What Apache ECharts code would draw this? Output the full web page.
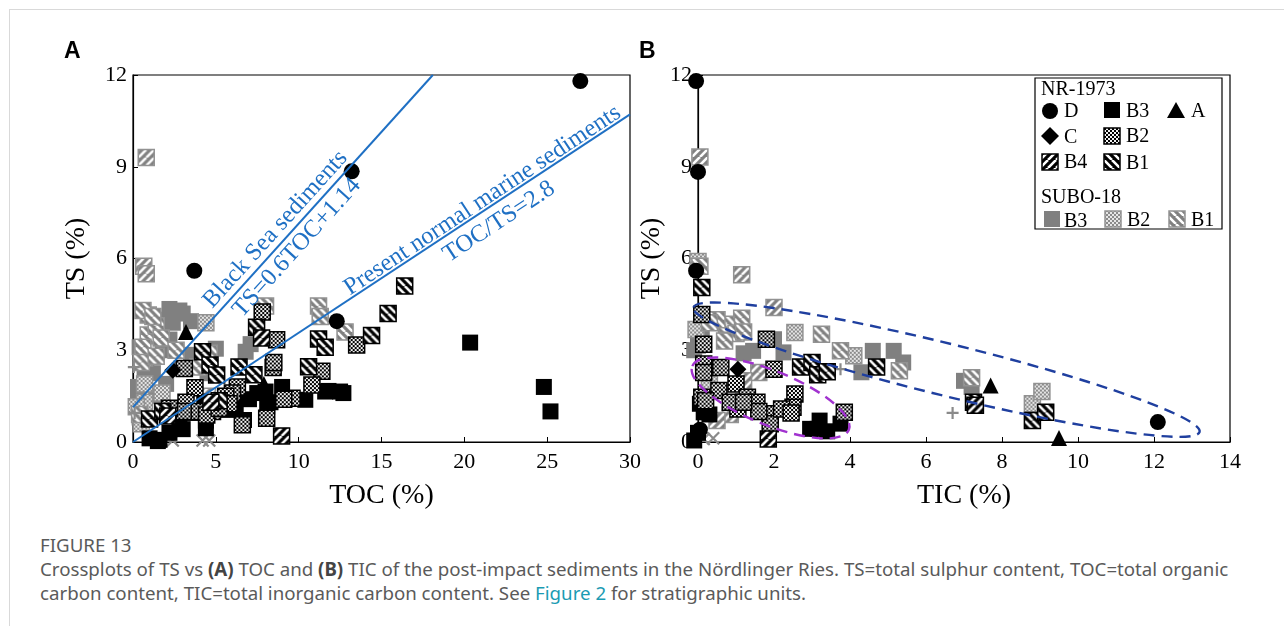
<!DOCTYPE html>
<html><head><meta charset="utf-8">
<script src="https://cdn.jsdelivr.net/npm/echarts@6/dist/echarts.min.js"></script>
<style>
html,body{margin:0;padding:0;background:#fff;overflow:hidden;}
#frame{position:absolute;left:9px;top:9px;width:1280px;height:620px;border-top:1px solid #d9d9d9;border-left:1px solid #d9d9d9;}
#chart{position:absolute;left:0;top:0;width:1284px;height:520px;}
#cap{position:absolute;left:40px;top:533px;width:1240px;font-family:'Noto Sans',sans-serif;color:#5a5a5a;font-size:18.7px;line-height:24px;white-space:nowrap;}
#cap b{font-weight:700;color:#444;}
#cap .lnk{color:#1b9bb3;}
</style></head>
<body>
<div id="frame"></div>
<div id="chart"></div>
<div id="cap">FIGURE 13<br>Crossplots of TS vs <b>(A)</b> TOC and <b>(B)</b> TIC of the post-impact sediments in the Nördlinger Ries. TS=total sulphur content, TOC=total organic<br>carbon content, TIC=total inorganic carbon content. See <span class="lnk">Figure 2</span> for stratigraphic units.</div>
<script>
// ---------- Panel A: TOC (%) vs TS (%) ----------
const nrD_A   = [[3.7,5.6],[13.2,8.85],[12.3,3.95],[27.0,11.8]];
const nrB3_A  = [[20.35,3.25],[24.8,1.8],[25.2,1.0],[12.7,1.6],[11.8,1.67],[10.4,1.38],[9.0,1.8],[8.3,1.3],[7.0,1.4],[6.7,0.72],[4.4,0.45],[3.0,0.42],[1.6,0.07],[1.0,0.12],[4.4,0.7],[8.1,1.15],[8.0,1.65],[5.7,1.05],[3.7,0.95],[1.5,0.03],[4.3,1.25],[6.2,1.1],[7.5,1.6],[2.2,0.3],[2.8,0.46],[11.6,1.65],[12.5,1.65]];
const nrA_A   = [[3.2,3.6],[7.9,1.9]];
const nrC_A   = [[2.4,2.35]];
const nrB1_A  = [[16.4,5.1],[15.4,4.2],[14.4,3.48],[11.2,3.37],[11.6,3.1],[10.6,2.46],[7.46,3.75],[4.2,2.95],[4.65,2.52],[6.4,2.45],[7.3,2.2],[5.2,1.35],[1.0,0.75],[1.8,1.0],[5.05,2.19]];
const nrB4_A  = [[8.97,0.2],[7.76,3.4],[4.7,1.3],[2.1,0.85]];
const nrB2_A  = [[7.8,4.25],[8.67,3.34],[13.5,3.17],[3.1,2.4],[8.46,2.44],[11.4,2.31],[10.8,1.86],[9.6,1.43],[9.1,1.4],[3.74,1.77],[6.3,1.8],[6.0,1.6],[3.2,1.3],[3.1,1.0],[4.0,1.0],[4.8,1.0],[6.6,0.56],[8.07,0.78],[5.6,1.5],[5.8,1.25],[4.45,0.88],[5.2,1.1],[2.2,1.1],[8.5,2.6]];
const suB3_A  = [[2.2,4.35],[2.8,4.3],[1.6,4.0],[2.4,3.9],[3.5,3.95],[1.0,3.45],[0.4,3.1],[0.8,2.7],[1.2,2.25],[2.0,1.9],[0.3,1.8],[2.2,3.35],[3.5,2.85],[5.0,3.05],[4.5,2.25],[6.8,2.95],[7.1,3.2],[0.4,0.8],[0.3,1.35],[1.8,3.0],[2.9,2.4],[1.4,1.5],[0.7,2.1],[3.0,4.2]];
const suB1_A  = [[0.92,4.15],[0.92,3.5],[1.4,3.8],[0.6,4.3],[1.2,4.1],[0.6,3.1],[0.5,2.6],[1.7,3.4],[8.0,4.45],[11.2,4.45],[11.3,4.1],[12.8,3.6],[2.6,3.0],[4.6,2.9],[3.9,2.45],[0.4,0.9],[1.4,2.8]];
const suB4_A  = [[0.8,9.3],[0.65,5.75],[0.8,5.5],[4.5,1.5]];
const suB2_A  = [[4.4,3.9],[1.75,1.6],[0.7,1.3],[0.7,2.75],[0.2,1.15],[0.7,1.9],[0.5,0.6]];
const plus_A  = [[0.05,2.45],[0.1,0.95]];
const cross_A = [[2.4,0.05],[4.2,0.05],[4.6,0.05]];

// ---------- Panel B: TIC (%) vs TS (%) ----------
const nrD_B   = [[-0.05,11.8],[0,8.83],[-0.05,5.6],[0.05,0.4],[12.1,0.65]];
const nrB3_B  = [[3.15,0.43],[2.95,0.43],[3.2,0.7],[3.75,0.6],[0.15,0.97],[-0.1,0.05],[0.05,1.25],[0.3,0.9],[3.4,0.35],[0.0,0.3]];
const nrB1_B  = [[0.1,5.05],[2.7,2.45],[3.0,2.6],[3.15,2.2],[4.7,2.45],[7.25,1.3],[8.8,0.7],[9.15,0.97],[3.4,2.3]];
const nrB4_B  = [[1.85,0.1],[7.3,1.2]];
const nrB2_B  = [[0.1,4.17],[0.15,3.2],[0.15,2.55],[0.6,2.44],[1.8,3.36],[2.0,2.38],[1.0,1.9],[0.55,1.68],[0.1,1.46],[1.3,1.46],[1.05,1.08],[1.55,1.3],[1.9,0.92],[1.9,0.6],[2.55,1.57],[2.5,1.14],[2.2,1.08],[3.85,0.97],[0.15,2.27],[0.85,1.3],[1.6,1.0],[0.2,1.35],[1.2,1.3],[2.45,0.95]];
const nrA_B   = [[7.7,1.85],[9.5,0.13]];
const nrC_B   = [[1.05,2.38]];
const suB3_B  = [[2.0,3.36],[2.25,2.93],[1.45,2.98],[4.6,2.98],[4.3,2.28],[5.15,2.98],[5.4,2.6],[7.0,2.0],[7.2,1.8],[0.0,3.15],[-0.1,3.0],[1.2,2.9],[0.1,3.6]];
const suB1_B  = [[0.05,5.75],[3.25,3.52],[3.75,2.98],[5.3,2.33],[7.2,2.1],[1.15,4.05],[0.75,3.85],[0.5,4.0],[1.0,3.55],[0.7,3.3],[1.2,3.6],[0.3,3.9]];
const suB4_B  = [[0.05,9.32],[1.15,5.47],[2.0,4.4],[1.6,2.27],[0.85,0.9],[1.2,2.0],[0.5,0.7]];
const suB2_B  = [[2.55,3.58],[4.1,2.82],[8.8,1.25],[9.05,1.65],[-0.05,3.68],[0.0,5.9],[0.3,1.9]];
const plus_B  = [[6.7,0.95],[3.75,2.38]];
const cross_B = [[0.15,0.1],[0.4,0.12]];

// reference lines (equations from the figure)
const blackSea = {slope:0.6, intercept:1.14};   // TS = 0.6 TOC + 1.14
const normalMarine = {ratio:2.8};               // TOC/TS = 2.8
const lineLabels = [
  {text:'Black Sea sediments', at:[8.6,6.95], line:'bs'},
  {text:'TS=0.6TOC+1.14', at:[9.9,6.35], line:'bs'},
  {text:'Present normal marine sediments', at:[21.1,7.9], line:'nm'},
  {text:'TOC/TS=2.8', at:[22.1,7.2], line:'nm'}
];
// ellipses in panel B (major-axis end points in data units)
const blueEllipse = {p1:[-0.12,4.4], p2:[13.2,0.33]};
const purpleEllipse = {p1:[-0.15,2.48], p2:[3.97,0.4]};

// ---------- patterns ----------
const SQ=16, SYM_SCALE=SQ/2;   // echarts scales unit symbols by size/2
function stripes(bg, dir, k){
  const s=8, c=document.createElement('canvas'); c.width=c.height=s;
  const g=c.getContext('2d'); g.fillStyle=bg; g.fillRect(0,0,s,s);
  g.strokeStyle='#fff'; g.lineWidth=2.6; g.beginPath();
  for(let i=-1;i<=1;i++){
    if(dir==='\\'){ g.moveTo(i*s,0); g.lineTo(i*s+s,s); }
    else { g.moveTo(i*s,s); g.lineTo(i*s+s,0); }
  }
  g.stroke(); return {image:c, repeat:'repeat', scaleX:1/k, scaleY:1/k};
}
function checker(a,b,k){
  const c=document.createElement('canvas'); c.width=c.height=4;
  const g=c.getContext('2d'); g.fillStyle=a; g.fillRect(0,0,4,4);
  g.fillStyle=b; g.fillRect(0,0,2,2); g.fillRect(2,2,2,2);
  return {image:c, repeat:'repeat', scaleX:1/k, scaleY:1/k};
}
const GRAY='#808080', GRAYB='#929292';
function fills(k){ return {
  nrB1: stripes('#000','\\',k), nrB4: stripes('#000','/',k), nrB2: checker('#f2f2f2','#000',k),
  suB1: stripes(GRAY,'\\',k), suB4: stripes(GRAY,'/',k), suB2: checker('#e6e6e6','#8a8a8a',k)
};}
const fill = fills(SYM_SCALE);   // for scaled scatter symbols
const lfill = fills(1);          // for legend graphics

const SERIF='Liberation Serif';
const BLUE='#1f70c4';

function sc(name, data, ax, symbol, size, color, border, z){
  return {type:'scatter', name, data, xAxisIndex:ax, yAxisIndex:ax, symbol, symbolSize:size, clip:false, silent:true, z,
    itemStyle:{color, borderColor:border||color, borderWidth:border?1.5:0, opacity:1}};
}
function strokeSym(name, data, ax, path){
  return {type:'scatter', name, data, xAxisIndex:ax, yAxisIndex:ax, symbol:path, symbolSize:12, clip:false, silent:true, z:2,
    itemStyle:{color:'rgba(0,0,0,0)', borderColor:'#8a8a8a', borderWidth:2.2, opacity:1}};
}
const PLUS='path://M5,0L5,10M0,5L10,5', CROSS='path://M0,0L10,10M10,0L0,10';
function panelSeries(ax, d){
  return [
    sc('SUBO B3', d.suB3, ax, 'rect', SQ, GRAY, null, 2),
    sc('SUBO B2', d.suB2, ax, 'rect', SQ, fill.suB2, GRAYB, 2),
    sc('SUBO B1', d.suB1, ax, 'rect', SQ, fill.suB1, GRAYB, 2),
    sc('SUBO B4', d.suB4, ax, 'rect', SQ, fill.suB4, GRAYB, 2),
    strokeSym('plus', d.plus, ax, PLUS),
    strokeSym('cross', d.cross, ax, CROSS),
    sc('B3', d.nrB3, ax, 'rect', SQ, '#000', null, 3),
    sc('B2', d.nrB2, ax, 'rect', SQ, fill.nrB2, '#000', 3),
    sc('B1', d.nrB1, ax, 'rect', SQ, fill.nrB1, '#000', 3),
    sc('B4', d.nrB4, ax, 'rect', SQ, fill.nrB4, '#000', 3),
    sc('D', d.nrD, ax, 'circle', 16, '#000', null, 4),
    sc('A', d.nrA, ax, 'triangle', 16, '#000', null, 4),
    sc('C', d.nrC, ax, 'diamond', 17, '#000', null, 4)
  ];
}
const bsPts = [[0, blackSea.intercept], [(12-blackSea.intercept)/blackSea.slope, 12]];
const nmPts = [[0,0],[30, 30/normalMarine.ratio]];

function xAx(idx, max, interval, name){
  return {type:'value', gridIndex:idx, min:0, max, interval, name, nameLocation:'middle', nameGap:40,
    nameTextStyle:{fontFamily:SERIF, fontSize:28, color:'#000'},
    axisLine:{show:true, lineStyle:{color:'#000', width:1.2}},
    axisTick:{show:true, inside:true, length:5, lineStyle:{color:'#000'}},
    axisLabel:{fontFamily:SERIF, fontSize:22, color:'#000', margin:9},
    splitLine:{show:false}};
}
function yAx(idx, gap){
  return {type:'value', gridIndex:idx, min:0, max:12, interval:3, name:'TS (%)', nameLocation:'middle', nameGap:gap,
    nameTextStyle:{fontFamily:SERIF, fontSize:28, color:'#000'},
    axisLine:{show:true, lineStyle:{color:'#000', width:1.2}},
    axisTick:{show:true, inside:true, length:5, lineStyle:{color:'#000'}},
    axisLabel:{fontFamily:SERIF, fontSize:22, color:'#000', margin:6},
    splitLine:{show:false}};
}

const chart = echarts.init(document.getElementById('chart'), null, {renderer:'canvas'});
const option = {
  backgroundColor:'transparent',
  animation:false,
  grid:[
    {left:133, top:75, width:497, height:367, show:true, borderColor:'#000', borderWidth:1.2, backgroundColor:'transparent'},
    {left:698, top:75, width:532, height:367, show:true, borderColor:'#000', borderWidth:1.2, backgroundColor:'transparent'}
  ],
  xAxis:[xAx(0,30,5,'TOC (%)'), xAx(1,14,2,'TIC (%)')],
  yAxis:[yAx(0,42), yAx(1,27)],
  series:[
    ...panelSeries(0,{suB3:suB3_A,suB2:suB2_A,suB1:suB1_A,suB4:suB4_A,plus:plus_A,cross:cross_A,nrB3:nrB3_A,nrB2:nrB2_A,nrB1:nrB1_A,nrB4:nrB4_A,nrD:nrD_A,nrA:nrA_A,nrC:nrC_A}),
    ...panelSeries(1,{suB3:suB3_B,suB2:suB2_B,suB1:suB1_B,suB4:suB4_B,plus:plus_B,cross:cross_B,nrB3:nrB3_B,nrB2:nrB2_B,nrB1:nrB1_B,nrB4:nrB4_B,nrD:nrD_B,nrA:nrA_B,nrC:nrC_B}),
    {type:'line', data:bsPts, xAxisIndex:0, yAxisIndex:0, symbol:'none', silent:true, z:6, lineStyle:{color:BLUE, width:2}},
    {type:'line', data:nmPts, xAxisIndex:0, yAxisIndex:0, symbol:'none', silent:true, z:6, lineStyle:{color:BLUE, width:2}}
  ]
};
chart.setOption(option);

// ---------- annotations / legend ----------
const gfx = [];
gfx.push({type:'text', left:64, top:40, style:{text:'A', font:'bold 23px "Liberation Sans"', fill:'#000'}});
gfx.push({type:'text', left:639, top:40, style:{text:'B', font:'bold 23px "Liberation Sans"', fill:'#000'}});

function px(ax, p){ return chart.convertToPixel({xAxisIndex:ax, yAxisIndex:ax}, p); }
const lineAngle = {};
[['bs',bsPts],['nm',nmPts]].forEach(([k,pts])=>{
  const a=px(0,pts[0]), b=px(0,pts[1]);
  lineAngle[k] = -Math.atan2(b[1]-a[1], b[0]-a[0]);
});
lineLabels.forEach(l=>{
  const p=px(0,l.at);
  gfx.push({type:'text', x:p[0], y:p[1], rotation:lineAngle[l.line], z:20,
    style:{text:l.text, font:'24.5px "Liberation Serif"', fill:BLUE, align:'center', verticalAlign:'middle'}});
});
function ell(e, ry, color){
  const a=px(1,e.p1), b=px(1,e.p2);
  const dx=b[0]-a[0], dy=b[1]-a[1];
  return {type:'ellipse', x:(a[0]+b[0])/2, y:(a[1]+b[1])/2, rotation:-Math.atan2(dy,dx), z:20,
    shape:{cx:0, cy:0, rx:Math.hypot(dx,dy)/2, ry},
    style:{fill:null, stroke:color, lineWidth:2.4, lineDash:[11,7]}};
}
gfx.push(ell(blueEllipse, 26, '#1f3f9f'));
gfx.push(ell(purpleEllipse, 27, '#a132cf'));

// legend box
const LF='20px "Liberation Serif"';
gfx.push({type:'rect', shape:{x:1035, y:78, width:187, height:151}, style:{fill:'#fff', stroke:'#000', lineWidth:1.2}, z:30});
function ltext(t,x,y){ gfx.push({type:'text', x, y, z:31, style:{text:t, font:LF, fill:'#000', verticalAlign:'middle'}}); }
function lrect(cx,cy,f,stroke){ gfx.push({type:'rect', z:31, shape:{x:cx-8,y:cy-8,width:16,height:16}, style:{fill:f, stroke:stroke||null, lineWidth:stroke?1.5:0}}); }
ltext('NR-1973',1041,90);
gfx.push({type:'circle', z:31, shape:{cx:1050,cy:111,r:8}, style:{fill:'#000'}});
ltext('D',1064,112);
lrect(1112,110,'#000'); ltext('B3',1126,112);
gfx.push({type:'polygon', z:31, shape:{points:[[1176,102],[1185,118],[1167,118]]}, style:{fill:'#000'}});
ltext('A',1191,112);
gfx.push({type:'polygon', z:31, shape:{points:[[1050,127],[1059,136],[1050,145],[1041,136]]}, style:{fill:'#000'}});
ltext('C',1064,138);
lrect(1112,136,lfill.nrB2,'#000'); ltext('B2',1126,137);
lrect(1050,162,lfill.nrB4,'#000'); ltext('B4',1064,163);
lrect(1112,162,lfill.nrB1,'#000'); ltext('B1',1126,164);
ltext('SUBO-18',1041,198);
lrect(1052,219,GRAY); ltext('B3',1064,222);
lrect(1113,219,lfill.suB2,GRAYB); ltext('B2',1127,221);
lrect(1177,219,lfill.suB1,GRAYB); ltext('B1',1191,221);

chart.setOption({graphic:gfx});
</script>
</body></html>
